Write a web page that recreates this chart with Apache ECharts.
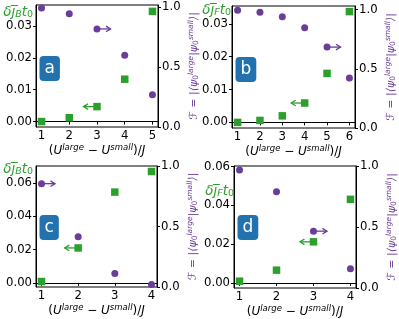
<!DOCTYPE html>
<html><head><meta charset="utf-8">
<script src="https://cdn.jsdelivr.net/npm/echarts@6/dist/echarts.min.js"></script>
<style>html,body{margin:0;padding:0;background:#fff}#c{width:399px;height:319px}</style>
</head><body><div id="c"></div>
<script>
// ---- data ----
const xA = [1, 2, 3, 4, 5];
const greenA = [0.0000, 0.0012, 0.0047, 0.0133, 0.0346];
const purpleA = [0.994, 0.946, 0.82, 0.60, 0.27];
const xB = [1, 2, 3, 4, 5, 6];
const greenB = [0.0000, 0.0006, 0.0020, 0.0059, 0.0149, 0.0337];
const purpleB = [0.994, 0.977, 0.94, 0.847, 0.683, 0.422];
const xC = [1, 2, 3, 4];
const greenC = [0.0008, 0.0210, 0.0546, 0.0670];
const purpleC = [0.854, 0.416, 0.112, 0.02];
const xD = [1, 2, 3, 4];
const greenD = [0.0009, 0.0066, 0.0212, 0.0431];
const purpleD = [0.967, 0.788, 0.466, 0.157];
// arrow anchors: [x of green point (arrow to left), x of purple point (arrow to right)]
const arrowsA = [3, 3];
const arrowsB = [4, 5];
const arrowsC = [2, 1];
const arrowsD = [3, 3];
// tick labels
const leftTicksAB = [0, 0.01, 0.02, 0.03];
const leftTicksCD = [0, 0.02, 0.04, 0.06];
const rightTicks = [0, 0.5, 1.0];
const panelLetters = ['a', 'b', 'c', 'd'];

const GREEN = '#2ca02c';
const PURPLE = '#6a3d9a';
const FONT = 'DejaVu Sans';

const panels = [
  {x: xA, g: greenA, p: purpleA, arr: arrowsA, xr: [0.8, 5.2], yl: [-0.0017, 0.0366], yr: [0, 1.02], lt: leftTicksAB, sub: 'B',
   grid: {left: 36, top: 5, width: 122, height: 122}, nameGap: -7, namePad: 3},
  {x: xB, g: greenB, p: purpleB, arr: arrowsB, xr: [0.75, 6.25], yl: [-0.0017, 0.0354], yr: [0, 1.03], lt: leftTicksAB, sub: 'F',
   grid: {left: 232, top: 6, width: 123, height: 122}, nameGap: -4, namePad: 1},
  {x: xC, g: greenC, p: purpleC, arr: arrowsC, xr: [0.85, 4.15], yl: [-0.0025, 0.0703], yr: [0, 1.0], lt: leftTicksCD, sub: 'B',
   grid: {left: 36, top: 166, width: 121, height: 121}, nameGap: -3, namePad: 3},
  {x: xD, g: greenD, p: purpleD, arr: arrowsD, xr: [0.85, 4.15], yl: [-0.0026, 0.0603], yr: [0, 1.0], lt: leftTicksCD, sub: 'F',
   grid: {left: 234, top: 166, width: 122, height: 122}, nameGap: -25, namePad: 0}
];

const labelStyle = {color: '#000', fontSize: 11.7, fontFamily: FONT};
const tickStyle = {show: true, length: 3, lineStyle: {color: '#000', width: 1}};
const lineStyle = {show: true, lineStyle: {color: '#000', width: 1}};

const grids = [], xAxes = [], yAxes = [], series = [], titles = [];

function arrowSeries(xi, yi, data, color) {
  return {
    type: 'custom', xAxisIndex: xi, yAxisIndex: yi, z: 1, silent: true,
    data: data,
    renderItem: function (params, api) {
      const p = api.coord([api.value(0), api.value(1)]);
      const dir = api.value(2);
      const L = 13.5;
      const tx = p[0] + dir * L, ty = p[1];
      return {type: 'group', children: [
        {type: 'line', shape: {x1: p[0], y1: p[1], x2: tx, y2: ty}, style: {stroke: color, lineWidth: 1.3}},
        {type: 'polyline', shape: {points: [[tx - dir * 4.5, ty - 2.8], [tx, ty], [tx - dir * 4.5, ty + 2.8]]},
         style: {stroke: color, fill: null, lineWidth: 1.3}}
      ]};
    }
  };
}

panels.forEach(function (P, i) {
  grids.push(Object.assign({show: true, borderColor: '#000', borderWidth: 1, containLabel: false, outerBoundsMode: 'none'}, P.grid));
  xAxes.push({
    type: 'value', gridIndex: i, min: P.xr[0], max: P.xr[1],
    axisLine: lineStyle, splitLine: {show: false},
    axisTick: Object.assign({customValues: P.x}, tickStyle),
    axisLabel: Object.assign({customValues: P.x, margin: 3, formatter: v => String(v)}, labelStyle),
    name: '{n|(}{i|U}{sup|large}{n| − }{i|U}{sup|small}{n|)/}{i|J}',
    nameLocation: 'middle', nameGap: 16,
    nameTextStyle: {color: '#000', rich: {
      n: {fontSize: 12, fontFamily: FONT, color: '#000'},
      i: {fontSize: 12, fontFamily: FONT, fontStyle: 'italic', color: '#000'},
      sup: {fontSize: 8.5, fontFamily: FONT, fontStyle: 'italic', color: '#000', padding: [0, 0, 7, 0]}
    }}
  });
  yAxes.push({
    type: 'value', gridIndex: i, position: 'left', min: P.yl[0], max: P.yl[1],
    axisLine: lineStyle, splitLine: {show: false},
    axisTick: Object.assign({customValues: P.lt}, tickStyle),
    axisLabel: Object.assign({customValues: P.lt, margin: 4, formatter: v => v.toFixed(2)}, labelStyle),
    name: '{i|δj\u0305}{sub|' + P.sub + '}{i|t}{s0|0}',
    nameLocation: 'end', nameGap: P.nameGap, nameMoveOverlap: false,
    nameTextStyle: {align: 'right', verticalAlign: 'middle', padding: [0, P.namePad, 0, 0], color: GREEN, rich: {
      i: {fontSize: 13.5, fontFamily: FONT, fontStyle: 'italic', color: GREEN},
      sub: {fontSize: 9.5, fontFamily: FONT, fontStyle: 'italic', color: GREEN, padding: [5, 0, 0, 0]},
      s0: {fontSize: 9.5, fontFamily: FONT, color: GREEN, padding: [5, 0, 0, 0]}
    }}
  });
  yAxes.push({
    type: 'value', gridIndex: i, position: 'right', min: P.yr[0], max: P.yr[1],
    axisLine: lineStyle, splitLine: {show: false},
    axisTick: Object.assign({customValues: rightTicks}, tickStyle),
    axisLabel: Object.assign({customValues: rightTicks, margin: 4, formatter: v => v.toFixed(1)}, labelStyle),
    name: '{f|ℱ = |⟨ψ}{sub|0}{sup|large}{f||ψ}{sub|0}{sup|small}{f|⟩|}',
    nameLocation: 'middle', nameRotate: 90, nameGap: 29, nameMoveOverlap: false,
    nameTextStyle: {color: PURPLE, rich: {
      f: {fontSize: 11, fontFamily: FONT, fontStyle: 'italic', color: PURPLE},
      sub: {fontSize: 7.5, fontFamily: FONT, color: PURPLE, padding: [5, 0, 0, 0]},
      sup: {fontSize: 7.5, fontFamily: FONT, fontStyle: 'italic', color: PURPLE, padding: [0, 0, 6, 0]}
    }}
  });
  const yl = 2 * i, yr = 2 * i + 1;
  series.push({
    type: 'scatter', xAxisIndex: i, yAxisIndex: yl, symbol: 'rect', symbolSize: 7.5, z: 3,
    itemStyle: {color: GREEN, opacity: 1}, data: P.x.map((x, k) => [x, P.g[k]])
  });
  series.push({
    type: 'scatter', xAxisIndex: i, yAxisIndex: yr, symbol: 'circle', symbolSize: 7, z: 3,
    itemStyle: {color: PURPLE, opacity: 1}, data: P.x.map((x, k) => [x, P.p[k]])
  });
  const gx = P.arr[0], px = P.arr[1];
  series.push(arrowSeries(i, yl, [[gx, P.g[P.x.indexOf(gx)], -1]], GREEN));
  series.push(arrowSeries(i, yr, [[px, P.p[P.x.indexOf(px)], 1]], PURPLE));
  titles.push({
    text: panelLetters[i],
    left: P.grid.left + 3.5, top: P.grid.top + (i < 2 ? 51 : 49),
    backgroundColor: '#2272b0', borderRadius: 4, padding: [4, 5, 4, 5],
    textStyle: {color: '#fff', fontSize: 17, fontWeight: 'normal', fontFamily: FONT, lineHeight: 17}
  });
});

const chart = echarts.init(document.getElementById('c'), null, {renderer: 'canvas'});
chart.setOption({
  animation: false,
  backgroundColor: '#fff',
  textStyle: {fontFamily: FONT},
  title: titles,
  grid: grids,
  xAxis: xAxes,
  yAxis: yAxes,
  series: series
});
</script>
</body></html>
